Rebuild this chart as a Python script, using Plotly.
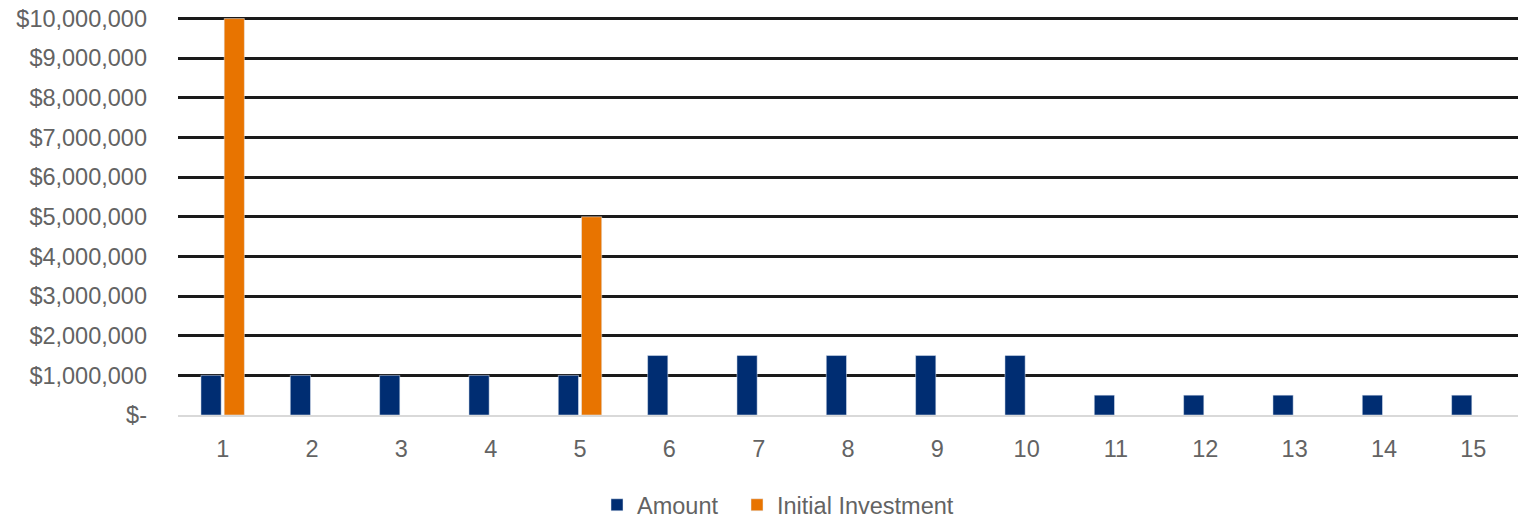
import plotly.graph_objects as go

periods = [str(i) for i in range(1, 16)]
amount = [1000000]*5 + [1500000]*5 + [500000]*5
initial_investment = [10000000, None, None, None, 5000000] + [None]*10
tick_vals = [i * 1000000 for i in range(0, 11)]
tick_text = ["$-"] + [f"${v:,}" for v in tick_vals[1:]]

fig = go.Figure()
fig.add_trace(go.Bar(x=periods, y=amount, name="Amount", marker_color="#002D72", legend="legend"))
fig.add_trace(go.Bar(x=periods, y=initial_investment, name="Initial Investment",
                     marker_color="#E87400", legend="legend2"))

font = dict(family="Liberation Sans, Arial, sans-serif", size=23.5, color="#636363")
leg_common = dict(orientation="h", xanchor="left", xref="container",
                  y=1 - 505/519, yanchor="middle", yref="container",
                  font=dict(size=23.5, color="#636363"), itemwidth=30, tracegroupgap=0,
                  bgcolor="rgba(0,0,0,0)")
fig.update_layout(
    width=1527, height=519,
    margin=dict(l=178, r=9, t=17, b=104, autoexpand=False),
    paper_bgcolor="white", plot_bgcolor="white",
    barmode="group", bargap=0.48, bargroupgap=0.13,
    font=font,
    showlegend=True,
    legend=dict(x=597/1527, **leg_common),
    legend2=dict(x=737/1527, **leg_common),
)
fig.update_yaxes(range=[0, 10040000], tickvals=tick_vals, ticktext=tick_text,
                 showgrid=True, gridcolor="#1a1a1a", gridwidth=3, automargin=False,
                 ticklabeloverflow="allow",
                 zeroline=False, showline=False, ticklabelstandoff=30, fixedrange=True)
fig.update_xaxes(type="category", showgrid=False, showline=True, linecolor="#d9d9d9", linewidth=2,
                 automargin=False, ticklabeloverflow="allow", ticklabelstandoff=12, fixedrange=True)

fig.write_html("out.html", config={"displayModeBar": False},
               post_script="document.body.style.margin='0';document.body.style.overflow='hidden';")
